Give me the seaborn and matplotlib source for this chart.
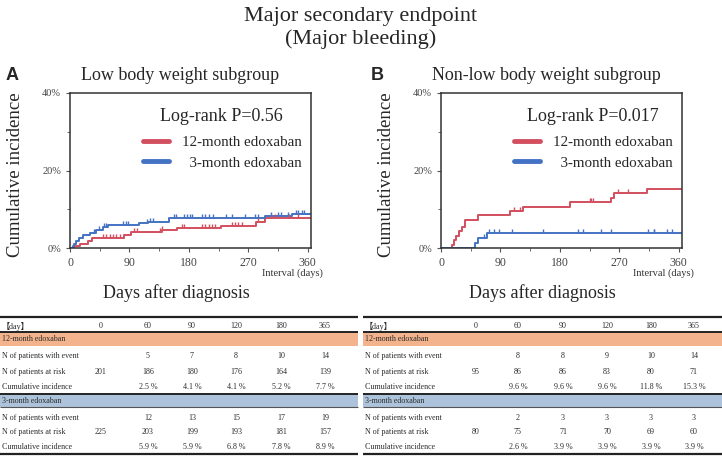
import numpy as np
import matplotlib
matplotlib.use("Agg")
import matplotlib.pyplot as plt
import seaborn as sns

sns.set_style("ticks")
plt.rcParams['font.family'] = ['Liberation Serif', 'Noto Sans CJK JP', 'DejaVu Sans']

RED = '#d24f5f'
BLUE = '#4472c4'

# ---- curve data (days, cumulative incidence %) ----
a_red_t = [0, 6, 15, 28, 34, 82, 92, 140, 162, 228, 282, 296, 365]
a_red_v = [0, 0.5, 1.1, 1.8, 2.6, 3.4, 4.1, 4.7, 5.2, 5.8, 6.6, 7.7, 7.7]
a_blue_t = [0, 4, 6, 9, 13, 20, 30, 40, 50, 58, 105, 118, 150, 296, 336, 365]
a_blue_v = [0, 0.4, 1.0, 1.7, 2.5, 3.4, 3.9, 4.7, 5.4, 5.9, 6.4, 6.8, 7.8, 8.3, 8.9, 8.9]
b_red_t = [0, 16, 20, 23, 28, 32, 36, 56, 104, 124, 196, 258, 262, 312, 365]
b_red_v = [0, 0.9, 2.0, 3.2, 4.3, 5.4, 7.3, 8.5, 9.6, 10.6, 11.8, 13.0, 14.1, 15.3, 15.3]
b_blue_t = [0, 52, 56, 70, 365]
b_blue_v = [0, 1.3, 2.6, 3.9, 3.9]

# censoring days
a_red_cens = [50, 55, 60, 65, 70, 75, 97, 101, 137, 140, 170, 172, 200, 205, 210, 215,
              220, 245, 250, 255, 260, 285, 305, 310, 315, 330, 332, 345]
a_blue_cens = [37, 44, 52, 55, 81, 85, 88, 117, 121, 125, 157, 160, 172, 177, 182, 185,
               200, 205, 210, 217, 237, 245, 265, 280, 285, 305, 315, 320, 330, 342, 345, 352, 355]
b_red_cens = [110, 120, 225, 227, 230, 268, 283]
b_blue_cens = [65, 72, 80, 88, 108, 155, 207, 215, 243, 257, 313, 322, 323, 342, 350]

# ---- table data ----
day_cols = ['0', '60', '90', '120', '180', '365']
row_names = ['N of patients with event', 'N of patients at risk', 'Cumulative incidence']
a_12_rows = [['', '5', '7', '8', '10', '14'],
             ['201', '186', '180', '176', '164', '139'],
             ['', '2.5 %', '4.1 %', '4.1 %', '5.2 %', '7.7 %']]
a_3_rows = [['', '12', '13', '15', '17', '19'],
            ['225', '203', '199', '193', '181', '157'],
            ['', '5.9 %', '5.9 %', '6.8 %', '7.8 %', '8.9 %']]
b_12_rows = [['', '8', '8', '9', '10', '14'],
             ['95', '86', '86', '83', '80', '71'],
             ['', '9.6 %', '9.6 %', '9.6 %', '11.8 %', '15.3 %']]
b_3_rows = [['', '2', '3', '3', '3', '3'],
            ['80', '75', '71', '70', '69', '60'],
            ['', '2.6 %', '3.9 %', '3.9 %', '3.9 %', '3.9 %']]

fig = plt.figure(figsize=(7.22, 4.57), dpi=100)
W, H = 722, 457

fig.text(0.5, 1 - 16 / H, 'Major secondary endpoint', ha='center', va='center', fontsize=16)
fig.text(0.5, 1 - 39 / H, '(Major bleeding)', ha='center', va='center', fontsize=16)


def step_val(t, v, d):
    idx = np.searchsorted(t, d, side='right') - 1
    return np.asarray(v)[idx]


def km_panel(left, letter, title, pval, red, blue, red_c, blue_c, title_x, letter_x, xl_x):
    ax = fig.add_axes([left / W, (H - 248) / H, 241 / W, 155 / H])
    sns.lineplot(x=red[0], y=red[1], drawstyle='steps-post', color=RED, lw=1.4,
                 estimator=None, label='12-month edoxaban', ax=ax)
    sns.lineplot(x=blue[0], y=blue[1], drawstyle='steps-post', color=BLUE, lw=1.4,
                 estimator=None, label='  3-month edoxaban', ax=ax)
    ax.plot(red_c, step_val(red[0], red[1], red_c), ls='none', marker=2, ms=3.2, mew=1, color=RED)
    ax.plot(blue_c, step_val(blue[0], blue[1], blue_c), ls='none', marker=2, ms=3.2, mew=1, color=BLUE)
    ax.set_xlim(0, 365)
    ax.set_ylim(0, 40)
    ax.set_xticks([0, 90, 180, 270, 360])
    ax.set_xticks([45, 135, 225, 315], minor=True)
    ax.set_yticks([0, 20, 40])
    ax.set_yticks([10, 30], minor=True)
    ax.set_yticklabels(['0%', '20%', '40%'])
    ax.tick_params(axis='both', which='both', direction='out', color='#555555', labelcolor='#444444')
    ax.tick_params(axis='y', labelsize=7.5, length=3)
    ax.tick_params(axis='x', labelsize=8.5, length=3)
    for s in ax.spines.values():
        s.set_color('#333333')
        s.set_linewidth(1.1)
    ax.set_xlabel('')
    ax.set_ylabel('Cumulative incidence', fontsize=13.5)
    ax.yaxis.set_label_coords(-0.19, 0.47)
    leg = ax.legend(loc='upper right', bbox_to_anchor=(1.02, 0.81), frameon=False,
                    fontsize=10.8, handlelength=1.7, labelspacing=0.45, handletextpad=0.9)
    for ln in leg.get_lines():
        ln.set_linewidth(3.5)
    ax.text(0.63, 0.85, pval, transform=ax.transAxes, ha='center', va='center', fontsize=13)
    ax.text(1.05, -0.165, 'Interval (days)', transform=ax.transAxes, ha='right', va='center',
            fontsize=7.5, color='#333333')
    ax.text(xl_x, -0.29, 'Days after diagnosis', transform=ax.transAxes, ha='center',
            va='center', fontsize=13)
    fig.text(title_x / W, 1 - 75 / H, title, ha='center', va='center', fontsize=13)
    fig.text(letter_x / W, 1 - 75 / H, letter, ha='left', va='center', fontsize=13,
             fontweight='bold', family='Liberation Sans')
    return ax


km_panel(70, 'A', 'Low body weight subgroup', 'Log-rank P=0.56',
         (a_red_t, a_red_v), (a_blue_t, a_blue_v), a_red_cens, a_blue_cens, 180, 6, 0.44)
km_panel(441, 'B', 'Non-low body weight subgroup', 'Log-rank P=0.017',
         (b_red_t, b_red_v), (b_blue_t, b_blue_v), b_red_cens, b_blue_cens, 546, 371, 0.42)

# ---- tables ----
tax = fig.add_axes([0, 0, 1, (H - 310) / H])
tax.set_xlim(0, W)
tax.set_ylim(H, 310)
tax.axis('off')

ORANGE = '#f3b38c'
LBLUE = '#adc3db'
TXT = '#2b2b2b'
FS = 5.8


def draw_table(x0, x1, cols, rows12, rows3):
    tax.hlines(317, x0, x1, color='#222222', lw=1.6)
    tax.text(x0 + 2, 326, '【day】', fontsize=FS, va='center', color=TXT)
    for cx, lab in zip(cols, day_cols):
        tax.text(x0 + cx, 326, lab, fontsize=FS, ha='center', va='center', color=TXT)
    for (b0, b1, col, name, rows, ys) in [
            (332, 346, ORANGE, '12-month edoxaban', rows12, [356, 372, 387]),
            (394, 407, LBLUE, '3-month edoxaban', rows3, [418, 432, 447])]:
        tax.fill_between([x0, x1], b0, b1, color=col, lw=0)
        tax.hlines(b0, x0, x1, color='#222222', lw=1.4)
        tax.text(x0 + 2, (b0 + b1) / 2, name, fontsize=FS, va='center', color=TXT)
        for y, rname, vals in zip(ys, row_names, rows):
            tax.text(x0 + 2, y, rname, fontsize=FS, va='center', color=TXT)
            for cx, val in zip(cols, vals):
                tax.text(x0 + cx, y, val, fontsize=FS, ha='center', va='center', color=TXT)
    tax.hlines(407, x0, x1, color='#555555', lw=0.8)
    tax.hlines(454, x0, x1, color='#222222', lw=1.6)


draw_table(0, 358, [101, 148, 192, 236, 281, 325], a_12_rows, a_3_rows)
draw_table(363, 722, [113, 155, 200, 244, 288, 331], b_12_rows, b_3_rows)

fig.savefig('out.png', dpi=100)
